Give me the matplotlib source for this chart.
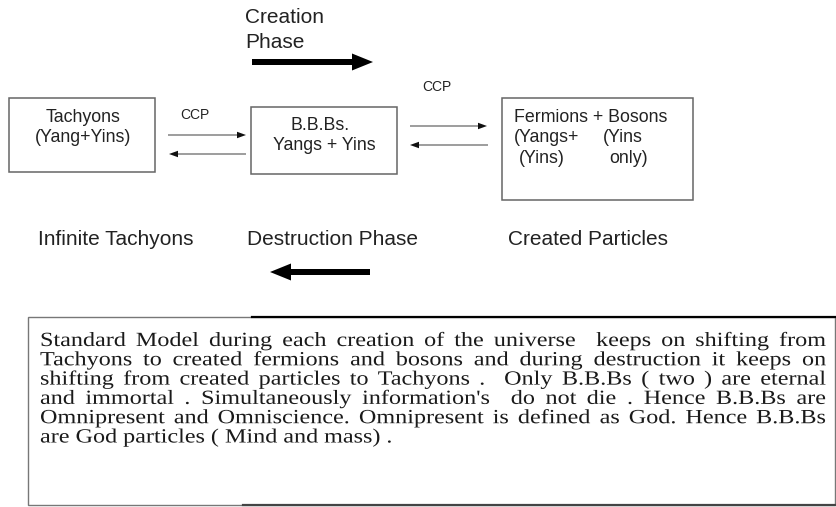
import matplotlib
matplotlib.use("Agg")
import matplotlib.pyplot as plt
from matplotlib.patches import Rectangle, FancyArrow
from matplotlib.font_manager import FontProperties
from matplotlib.patheffects import AbstractPathEffect
from matplotlib.transforms import Affine2D

# ---- content ----
box_labels = ["Tachyons", "(Yang+Yins)", "B.B.Bs.", "Yangs + Yins"]
fermion_lines = [("Fermions + Bosons", ""), ("(Yangs+", "(Yins"), ("(Yins)", "only)")]
top_labels = ["Creation", "Phase"]
bottom_labels = ["Infinite Tachyons", "Destruction Phase", "Created Particles"]
ccp_label = "CCP"
paragraph = [
    "Standard Model during each creation of the universe  keeps on shifting from",
    "Tachyons to created fermions and bosons and during destruction it keeps on",
    "shifting from created particles to Tachyons .  Only B.B.Bs ( two ) are eternal",
    "and immortal . Simultaneously information's  do not die . Hence B.B.Bs are",
    "Omnipresent and Omniscience. Omnipresent is defined as God. Hence B.B.Bs",
    "are God particles ( Mind and mass) .",
]


class HStretch(AbstractPathEffect):
    """Stretch glyphs horizontally about a fixed display x."""

    def __init__(self, sx, x0):
        super().__init__()
        self.sx = sx
        self.x0 = x0

    def draw_path(self, renderer, gc, tpath, affine, rgbFace=None):
        aff = affine + Affine2D().translate(-self.x0, 0).scale(self.sx, 1).translate(self.x0, 0)
        renderer.draw_path(gc, tpath, aff, rgbFace)


W, H = 837, 507
fig = plt.figure(figsize=(W / 100, H / 100), dpi=100)
ax = fig.add_axes([0, 0, 1, 1])
ax.set_xlim(0, W)
ax.set_ylim(H, 0)
ax.axis("off")

sans = "Liberation Sans"
serif = "Liberation Serif"
edge = "#666666"
tc = "#222222"

# boxes
ax.add_patch(Rectangle((9, 98), 146, 74, fill=False, ec=edge, lw=1.1))
ax.add_patch(Rectangle((251, 107), 146, 67, fill=False, ec=edge, lw=1.1))
ax.add_patch(Rectangle((502, 98), 191, 102, fill=False, ec=edge, lw=1.1))

# box texts
for lab, x, y in zip(box_labels, [83, 83, 320, 324], [122, 142, 130, 150]):
    ax.text(x, y, lab, family=sans, fontsize=12.8, ha="center", va="baseline", color=tc)

fx = [(514, 0), (514, 603), (519, 609)]
fy = [122, 142, 163]
for (a, b), (x1, x2), y in zip(fermion_lines, fx, fy):
    ax.text(x1, y, a, family=sans, fontsize=12.8, ha="left", va="baseline", color=tc)
    if b:
        ax.text(x2, y, b, family=sans, fontsize=12.8, ha="left", va="baseline", color=tc)

# CCP labels
ax.text(180, 119, ccp_label, family=sans, fontsize=10, ha="left", va="baseline", color=tc)
ax.text(422, 91, ccp_label, family=sans, fontsize=10, ha="left", va="baseline", color=tc)

# phase labels
for lab, y in zip(top_labels, [23, 48]):
    ax.text(245, y, lab, family=sans, fontsize=15, ha="left", va="baseline", color=tc)
for x, lab in zip([38, 247, 508], bottom_labels):
    ax.text(x, 245, lab, family=sans, fontsize=15, ha="left", va="baseline", color=tc)

# thick arrows
ax.add_patch(FancyArrow(252, 62, 121, 0, width=6, head_width=17, head_length=21,
                        length_includes_head=True, color="black", lw=0))
ax.add_patch(FancyArrow(370, 272, -100, 0, width=6, head_width=17, head_length=21,
                        length_includes_head=True, color="black", lw=0))

# thin arrows
thin = [(168, 135, 246), (246, 154, 169), (410, 126, 487), (488, 145, 410)]
for x0, y, x1 in thin:
    ax.add_patch(FancyArrow(x0, y, x1 - x0, 0, width=0.8, head_width=6.5, head_length=9,
                            length_includes_head=True, color="#111", lw=0))

# bottom paragraph box
ax.add_patch(Rectangle((28, 317), 807, 188, fill=False, ec="#777777", lw=1.0))
ax.plot([252, 837], [317, 317], color="black", lw=1.6)
ax.plot([243, 837], [505, 505], color="#444444", lw=1.6)

# justified, slightly stretched paragraph
fig.canvas.draw()
renderer = fig.canvas.get_renderer()
prop = FontProperties(family=serif, size=14.5)
sx = 1.2
left, right = 40, 826
base_y = 346
dy = 19.3


def put_word(x, y, w):
    t = ax.text(x, y, w, fontproperties=prop, ha="left", va="baseline", color="#1a1a1a")
    t.set_path_effects([HStretch(sx, x)])


space_w = renderer.get_text_width_height_descent("a b", prop, ismath=False)[0] - \
    renderer.get_text_width_height_descent("ab", prop, ismath=False)[0]

for i, line in enumerate(paragraph):
    y = base_y + i * dy
    tokens = line.split(" ")
    widths = [renderer.get_text_width_height_descent(w, prop, ismath=False)[0] * sx if w else 0.0
              for w in tokens]
    ngaps = len(tokens) - 1
    if i == len(paragraph) - 1:
        gap = space_w * sx
    else:
        gap = (right - left - sum(widths)) / ngaps
    x = left
    for w, wd in zip(tokens, widths):
        if w:
            put_word(x, y, w)
        x += wd + gap

fig.savefig("out.png", dpi=100)
